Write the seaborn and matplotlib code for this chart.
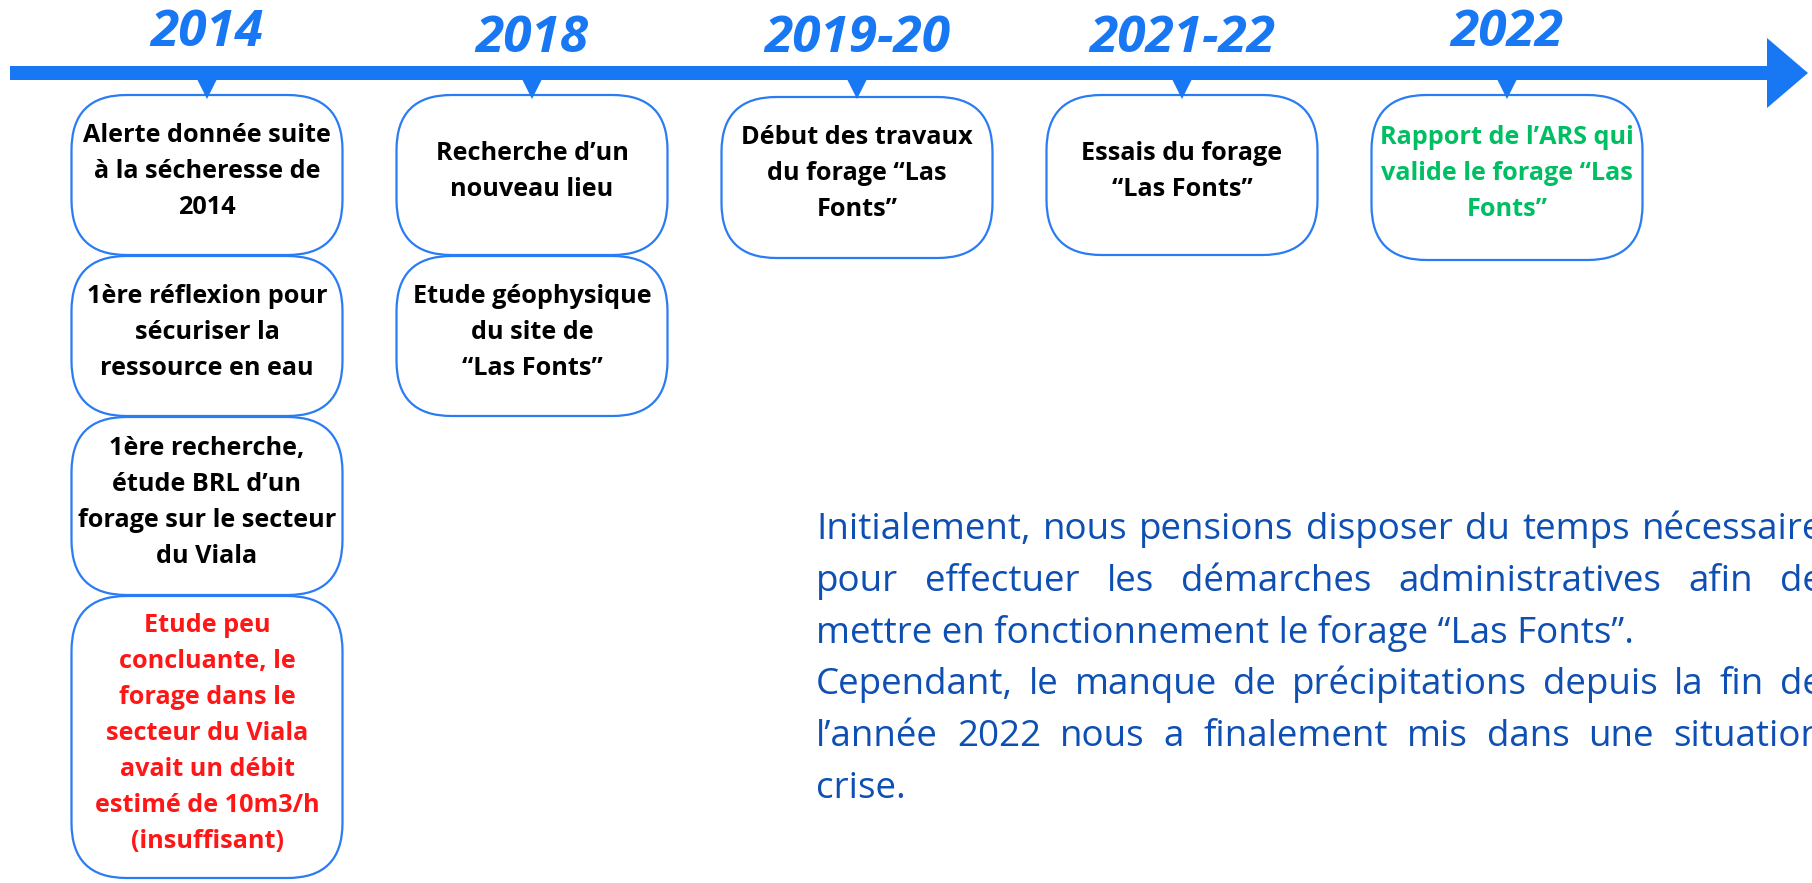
import matplotlib
matplotlib.use("Agg")
import matplotlib.pyplot as plt
from matplotlib.patches import FancyBboxPatch, Polygon
import seaborn as sns

# timeline data
years = ["2014", "2018", "2019-20", "2021-22", "2022"]
events = [
    [["Alerte donnée suite", "à la sécheresse de", "2014"],
     ["1ère réflexion pour", "sécuriser la", "ressource en eau"],
     ["1ère recherche,", "étude BRL d’un", "forage sur le secteur", "du Viala"],
     ["Etude peu", "concluante, le", "forage dans le", "secteur du Viala",
      "avait un débit", "estimé de 10m3/h", "(insuffisant)"]],
    [["Recherche d’un", "nouveau lieu"],
     ["Etude géophysique", "du site de", "“Las Fonts”"]],
    [["Début des travaux", "du forage “Las", "Fonts”"]],
    [["Essais du forage", "“Las Fonts”"]],
    [["Rapport de l’ARS qui", "valide le forage “Las", "Fonts”"]],
]
event_colors = [
    ["black", "black", "black", "#ff1616"],
    ["black", "black"],
    ["black"],
    ["black"],
    ["#00bf63"],
]
paragraph = [
    ("Initialement, nous pensions disposer du temps nécessaire", True),
    ("pour effectuer les démarches administratives afin de", True),
    ("mettre en fonctionnement le forage “Las Fonts”.", False),
    ("Cependant, le manque de précipitations depuis la fin de", True),
    ("l’année 2022 nous a finalement mis dans une situation", True),
    ("crise.", False),
]

BLUE = "#1877f2"
EDGE = "#2a7cf4"
TEXT_BLUE = "#0d4fb3"

sns.set_theme(style="white")
plt.rcParams["font.family"] = ["Open Sans", "DejaVu Sans"]

W, H = 1812, 883
fig = plt.figure(figsize=(W / 100, H / 100), dpi=100)
ax = fig.add_axes([0, 0, 1, 1])

# main arrow
ax.add_patch(Polygon([(10, 66), (1767, 66), (1767, 38), (1808, 73),
                      (1767, 108), (1767, 80), (10, 80)],
                     closed=True, color=BLUE, lw=0))

x0, step, bw = 207, 325, 271
centers = [x0 + i * step for i in range(len(years))]

# pointers under the arrow
sns.scatterplot(x=centers, y=[87] * len(centers), marker="v", s=300,
                color=BLUE, edgecolor="none", ax=ax, zorder=3, legend=False)
ax.set_xlim(0, W)
ax.set_ylim(H, 0)
ax.axis("off")

# year labels
for i, (cx, yr) in enumerate(zip(centers, years)):
    base = 46 if i in (0, 4) else 52
    ax.text(cx, base, yr, ha="center", va="baseline", fontsize=37,
            fontweight="bold", fontstyle="italic", color=BLUE)

# box extents per column
box_bounds = [
    [(95, 255), (256, 416), (417, 595), (596, 878)],
    [(95, 255), (256, 416)],
    [(97, 258)],
    [(95, 255)],
    [(95, 260)],
]

line_gap = 36
for cx, col, cols, bounds in zip(centers, events, event_colors, box_bounds):
    for lines, c, (top, bot) in zip(col, cols, bounds):
        box = FancyBboxPatch((cx - bw / 2, top), bw, bot - top,
                             boxstyle="round,pad=0,rounding_size=55",
                             fc="white", ec=EDGE, lw=1.6, zorder=2)
        ax.add_patch(box)
        mid = (top + bot) / 2 - 5
        n = len(lines)
        for k, ln in enumerate(lines):
            yc = mid + (k - (n - 1) / 2) * line_gap
            ax.text(cx, yc + 8, ln, ha="center", va="baseline", fontsize=18.2,
                    fontweight="bold", color=c, zorder=4)

# justified paragraph
fig.canvas.draw()
renderer = fig.canvas.get_renderer()
px0, right = 816, 1823
base0, pgap = 539, 51.8
for k, (ln, just) in enumerate(paragraph):
    yb = base0 + k * pgap
    if not just:
        ax.text(px0, yb, ln, ha="left", va="baseline", fontsize=26.5,
                color=TEXT_BLUE)
        continue
    words = ln.split(" ")
    objs = [ax.text(0, yb, w, ha="left", va="baseline", fontsize=26.5,
                    color=TEXT_BLUE) for w in words]
    widths = [t.get_window_extent(renderer).width for t in objs]
    gap = (right - px0 - sum(widths)) / (len(words) - 1)
    x = px0
    for t, w in zip(objs, widths):
        t.set_x(x)
        x += w + gap

fig.savefig("out.png", dpi=100, facecolor="white")
